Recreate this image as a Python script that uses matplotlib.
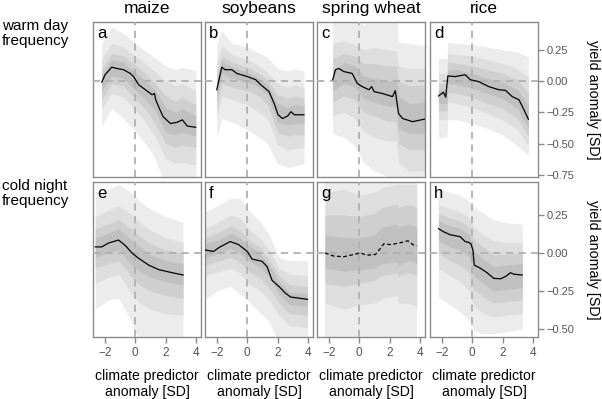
import numpy as np
import matplotlib
matplotlib.use("Agg")
import matplotlib.pyplot as plt

plt.rcParams['font.family'] = ['Liberation Sans', 'DejaVu Sans']

crops = ["maize", "soybeans", "spring wheat", "rice"]
predictors = ["warm day\nfrequency", "cold night\nfrequency"]
letters = ["a", "b", "c", "d", "e", "f", "g", "h"]

# ---- median curves (x, yield anomaly) ----
a_x = [-2.22, -2.0, -1.56, -1.22, -0.78, -0.33, -0.11, 0.22, 0.67, 1.11, 1.27, 1.35, 1.56, 1.84, 2.33, 2.78, 3.11, 3.44, 4.0]
a_med = [-0.01, 0.05, 0.11, 0.10, 0.09, 0.06, 0.035, -0.03, -0.07, -0.11, -0.10, -0.15, -0.21, -0.285, -0.34, -0.33, -0.31, -0.36, -0.37]
b_x = [-2.02, -1.69, -1.47, -1.02, -0.69, 0.0, 0.56, 0.89, 1.44, 1.78, 2.04, 2.33, 2.67, 2.89, 3.11, 3.75]
b_med = [-0.07, 0.11, 0.09, 0.09, 0.06, 0.035, 0.01, -0.03, -0.085, -0.18, -0.27, -0.30, -0.28, -0.245, -0.27, -0.27]
c_x = [-1.76, -1.58, -1.36, -1.02, -0.47, -0.13, 0.2, 0.64, 0.82, 0.98, 1.53, 2.2, 2.38, 2.6, 2.87, 3.53, 4.31]
c_med = [0.01, 0.09, 0.10, 0.075, 0.06, -0.02, -0.045, -0.07, -0.045, -0.085, -0.10, -0.125, -0.077, -0.26, -0.30, -0.325, -0.305]
d_x = [-2.24, -1.91, -1.76, -1.62, -1.13, -0.47, -0.13, 0.42, 1.09, 1.76, 2.2, 2.64, 3.09, 3.42, 3.71]
d_med = [-0.12, -0.09, -0.13, 0.04, 0.035, 0.05, 0.01, -0.005, -0.045, -0.07, -0.075, -0.125, -0.15, -0.23, -0.305]
e_x = [-2.65, -2.22, -1.78, -1.11, -0.67, -0.22, 0.22, 0.89, 1.56, 2.22, 3.16]
e_med = [0.04, 0.04, 0.065, 0.085, 0.05, 0.0, -0.035, -0.08, -0.11, -0.125, -0.145]
f_x = [-2.8, -2.24, -1.8, -1.13, -0.58, 0.0, 0.31, 0.98, 1.31, 1.64, 2.09, 2.53, 2.87, 3.98]
f_med = [0.02, 0.01, 0.04, 0.075, 0.055, 0.01, -0.04, -0.055, -0.09, -0.18, -0.22, -0.265, -0.29, -0.305]
g_x = [-2.27, -1.71, -1.04, -0.38, 0.07, 0.51, 1.07, 1.4, 1.62, 2.07, 2.62, 3.22, 3.62, 3.8]
g_med = [0.0, -0.02, -0.025, -0.01, 0.0, -0.015, -0.01, 0.03, 0.06, 0.055, 0.065, 0.08, 0.05, 0.048]
h_x = [-2.24, -1.91, -1.47, -0.8, -0.47, -0.24, -0.09, 0.04, 0.13, 0.53, 0.98, 1.42, 1.87, 2.2, 2.53, 2.76, 3.31]
h_med = [0.16, 0.14, 0.12, 0.107, 0.075, 0.07, 0.06, 0.02, -0.08, -0.10, -0.13, -0.167, -0.17, -0.155, -0.13, -0.14, -0.145]

# ---- uncertainty bands: upper / lower bounds, outermost first ----
a_bx = [-2.22, -1.56, -0.78, 0.0, 0.67, 1.33, 2.0, 2.67, 3.11, 4.0]
a_hi = [[0.30, 0.43, 0.38, 0.30, 0.24, 0.18, 0.12, 0.09, 0.11, 0.08],
        [0.18, 0.30, 0.27, 0.20, 0.14, 0.07, 0.0, -0.04, -0.02, -0.08],
        [0.10, 0.22, 0.20, 0.13, 0.06, -0.02, -0.12, -0.16, -0.13, -0.19],
        [0.05, 0.17, 0.15, 0.07, 0.0, -0.08, -0.21, -0.25, -0.22, -0.28]]
a_lo = [[-0.36, -0.22, -0.30, -0.40, -0.50, -0.62, -0.85, -0.9, -0.9, -0.9],
        [-0.22, -0.10, -0.13, -0.23, -0.33, -0.45, -0.62, -0.66, -0.65, -0.67],
        [-0.15, -0.02, -0.04, -0.14, -0.23, -0.34, -0.50, -0.53, -0.51, -0.53],
        [-0.08, 0.04, 0.02, -0.07, -0.15, -0.24, -0.41, -0.43, -0.41, -0.44]]
b_bx = [-2.02, -1.69, -1.0, 0.0, 0.67, 1.33, 2.0, 2.67, 3.11, 3.75]
b_hi = [[0.30, 0.40, 0.30, 0.27, 0.23, 0.19, 0.10, 0.08, 0.10, 0.08],
        [0.15, 0.28, 0.21, 0.17, 0.13, 0.07, -0.02, -0.05, -0.03, -0.05],
        [0.06, 0.20, 0.15, 0.11, 0.07, 0.01, -0.11, -0.14, -0.12, -0.14],
        [0.0, 0.16, 0.11, 0.07, 0.03, -0.03, -0.18, -0.21, -0.19, -0.20]]
b_lo = [[-0.45, -0.30, -0.33, -0.39, -0.44, -0.50, -0.66, -0.69, -0.68, -0.66],
        [-0.31, -0.12, -0.15, -0.19, -0.24, -0.30, -0.51, -0.55, -0.54, -0.53],
        [-0.22, -0.02, -0.05, -0.08, -0.11, -0.19, -0.41, -0.44, -0.43, -0.43],
        [-0.14, 0.06, 0.02, -0.01, -0.04, -0.11, -0.33, -0.35, -0.34, -0.34]]
c_bx = [-1.76, -1.0, -0.3, 0.3, 1.0, 1.8, 2.45, 2.6, 3.3, 4.31]
c_hi = [[0.60, 0.60, 0.60, 0.44, 0.60, 0.60, 0.60, 0.31, 0.30, 0.28],
        [0.30, 0.32, 0.29, 0.25, 0.27, 0.25, 0.24, 0.12, 0.10, 0.10],
        [0.18, 0.22, 0.20, 0.14, 0.14, 0.12, 0.12, 0.0, -0.04, -0.03],
        [0.08, 0.15, 0.12, 0.04, 0.02, 0.0, 0.0, -0.12, -0.18, -0.17]]
c_lo = [[-0.42, -0.45, -0.52, -0.65, -0.72, -0.76, -0.78, -0.9, -0.9, -0.9],
        [-0.28, -0.25, -0.30, -0.40, -0.45, -0.48, -0.48, -0.65, -0.72, -0.72],
        [-0.17, -0.12, -0.15, -0.25, -0.28, -0.32, -0.32, -0.50, -0.55, -0.55],
        [-0.08, -0.02, -0.05, -0.14, -0.17, -0.20, -0.20, -0.38, -0.42, -0.42]]
d_bx = [-2.24, -1.68, -1.62, -1.0, 0.0, 1.0, 2.0, 3.0, 3.71]
d_hi = [[0.18, 0.18, 0.31, 0.30, 0.29, 0.27, 0.25, 0.23, 0.19],
        [0.06, 0.06, 0.22, 0.21, 0.20, 0.17, 0.14, 0.10, 0.03],
        [-0.02, -0.02, 0.15, 0.14, 0.12, 0.09, 0.06, 0.01, -0.10],
        [-0.07, -0.07, 0.09, 0.09, 0.06, 0.02, -0.01, -0.07, -0.20]]
d_lo = [[-0.45, -0.45, -0.31, -0.31, -0.34, -0.38, -0.43, -0.52, -0.59],
        [-0.31, -0.31, -0.17, -0.18, -0.21, -0.26, -0.31, -0.39, -0.52],
        [-0.24, -0.24, -0.09, -0.10, -0.13, -0.18, -0.22, -0.30, -0.45],
        [-0.18, -0.18, -0.02, -0.03, -0.06, -0.10, -0.14, -0.22, -0.38]]
e_bx = [-2.65, -1.8, -1.1, -0.3, 0.3, 1.0, 2.0, 3.16]
e_hi = [[0.38, 0.42, 0.45, 0.40, 0.34, 0.29, 0.24, 0.20],
        [0.24, 0.28, 0.31, 0.26, 0.20, 0.15, 0.10, 0.07],
        [0.16, 0.19, 0.22, 0.16, 0.11, 0.06, 0.02, 0.0],
        [0.10, 0.13, 0.16, 0.09, 0.04, -0.01, -0.05, -0.07]]
e_lo = [[-0.37, -0.31, -0.30, -0.44, -0.60, -0.60, -0.60, -0.60],
        [-0.20, -0.16, -0.14, -0.26, -0.33, -0.37, -0.40, -0.41],
        [-0.10, -0.07, -0.05, -0.15, -0.21, -0.25, -0.28, -0.30],
        [-0.03, 0.0, 0.02, -0.07, -0.12, -0.16, -0.19, -0.21]]
f_bx = [-2.8, -1.8, -1.1, -0.5, 0.1, 0.9, 1.45, 2.1, 2.8, 3.98]
f_hi = [[0.27, 0.32, 0.36, 0.36, 0.28, 0.20, 0.12, -0.03, -0.05, -0.05],
        [0.16, 0.21, 0.25, 0.23, 0.16, 0.09, 0.02, -0.10, -0.14, -0.15],
        [0.10, 0.14, 0.18, 0.15, 0.09, 0.03, -0.04, -0.15, -0.21, -0.22],
        [0.06, 0.09, 0.13, 0.10, 0.05, -0.01, -0.08, -0.19, -0.26, -0.27]]
f_lo = [[-0.30, -0.24, -0.22, -0.27, -0.32, -0.40, -0.45, -0.60, -0.60, -0.60],
        [-0.15, -0.12, -0.10, -0.13, -0.20, -0.25, -0.31, -0.41, -0.48, -0.49],
        [-0.08, -0.05, -0.03, -0.06, -0.12, -0.17, -0.23, -0.33, -0.40, -0.41],
        [-0.03, 0.0, 0.03, 0.0, -0.05, -0.10, -0.16, -0.27, -0.34, -0.35]]
g_bx = [-2.27, -1.0, 0.0, 1.0, 1.5, 2.5, 2.55, 3.3, 3.8]
g_hi = [[0.60, 0.60, 0.60, 0.60, 0.60, 0.60, 0.60, 0.60, 0.60],
        [0.40, 0.42, 0.38, 0.40, 0.43, 0.45, 0.45, 0.45, 0.45],
        [0.25, 0.25, 0.24, 0.26, 0.30, 0.32, 0.30, 0.32, 0.30],
        [0.12, 0.10, 0.10, 0.12, 0.17, 0.19, 0.17, 0.19, 0.17]]
g_lo = [[-0.70, -0.70, -0.70, -0.70, -0.70, -0.70, -0.70, -0.70, -0.70],
        [-0.33, -0.37, -0.34, -0.33, -0.30, -0.28, -0.33, -0.33, -0.35],
        [-0.20, -0.22, -0.20, -0.18, -0.15, -0.13, -0.15, -0.13, -0.15],
        [-0.10, -0.12, -0.11, -0.10, -0.07, -0.06, -0.08, -0.05, -0.07]]
h_bx = [-2.24, -1.5, -0.8, -0.2, 0.1, 0.6, 1.4, 2.2, 3.31]
h_hi = [[0.42, 0.40, 0.38, 0.34, 0.30, 0.27, 0.22, 0.20, 0.19],
        [0.32, 0.29, 0.27, 0.23, 0.17, 0.13, 0.08, 0.07, 0.07],
        [0.26, 0.23, 0.21, 0.17, 0.09, 0.05, -0.01, -0.01, 0.0],
        [0.21, 0.18, 0.16, 0.12, 0.01, -0.03, -0.09, -0.08, -0.07]]
h_lo = [[-0.29, -0.34, -0.39, -0.44, -0.51, -0.53, -0.53, -0.52, -0.50],
        [-0.10, -0.15, -0.19, -0.25, -0.35, -0.39, -0.42, -0.41, -0.40],
        [0.0, -0.05, -0.08, -0.13, -0.24, -0.28, -0.33, -0.32, -0.31],
        [0.08, 0.04, 0.02, -0.03, -0.15, -0.19, -0.25, -0.24, -0.23]]

med_x = [a_x, b_x, c_x, d_x, e_x, f_x, g_x, h_x]
med_y = [a_med, b_med, c_med, d_med, e_med, f_med, g_med, h_med]
band_x = [a_bx, b_bx, c_bx, d_bx, e_bx, f_bx, g_bx, h_bx]
band_hi = [a_hi, b_hi, c_hi, d_hi, e_hi, f_hi, g_hi, h_hi]
band_lo = [a_lo, b_lo, c_lo, d_lo, e_lo, f_lo, g_lo, h_lo]
dashed_med = [False]*6 + [True, False]

row_ylim = [(-0.767, 0.471), (-0.553, 0.467)]
row_yticks = [[0.25, 0.0, -0.25, -0.5, -0.75], [0.25, 0.0, -0.25, -0.5]]
xticks = [-2, 0, 2, 4]

shades = ['#ececec', '#dedede', '#cfcfcf', '#c0c0c0']
edge = '#8a8a8a'

W, H = 602, 399
fig = plt.figure(figsize=(W/100, H/100), dpi=100)
lefts = [93, 205, 317, 430]; pw = 108
row_top = [22, 182]; ph = 155

for r in range(2):
    for c in range(4):
        i = r*4 + c
        ax = fig.add_axes([lefts[c]/W, 1-(row_top[r]+ph)/H, pw/W, ph/H])
        bx = band_x[i]
        for k in range(4):
            ax.fill_between(bx, band_lo[i][k], band_hi[i][k], color=shades[k], lw=0)
        ax.axhline(0, color='#b0b0b0', lw=1.3, dashes=(4, 3), zorder=3)
        ax.axvline(0, color='#b0b0b0', lw=1.3, dashes=(4, 3), zorder=3)
        if dashed_med[i]:
            ax.plot(med_x[i], med_y[i], color='black', lw=0.9, dashes=(3, 2), zorder=4)
        else:
            ax.plot(med_x[i], med_y[i], color='black', lw=0.9, zorder=4)
        ax.set_xlim(-2.8, 4.35)
        ax.set_ylim(*row_ylim[r])
        for s in ax.spines.values():
            s.set_color(edge); s.set_linewidth(1.0)
        ax.text(0.035, 0.975, letters[i], transform=ax.transAxes, ha='left', va='top', fontsize=12)
        ax.set_xticks(xticks)
        ax.set_xticklabels(['\u22122', '0', '2', '4'])
        ax.tick_params(axis='x', bottom=(r == 1), labelbottom=(r == 1), length=4, width=1,
                       color=edge, labelcolor='#555555', labelsize=8.5, pad=3)
        if c == 3:
            ax.yaxis.tick_right()
            ax.set_yticks(row_yticks[r])
            ax.set_yticklabels([f"{v:.2f}".replace('-', '\u2212') for v in row_yticks[r]])
            ax.tick_params(axis='y', right=True, labelright=True, left=False, labelleft=False,
                           length=4, width=1, color=edge, labelcolor='#555555', labelsize=8, pad=2)
        else:
            ax.set_yticks([])
        if r == 1:
            fig.text((lefts[c]+pw/2)/W, 1-384/H, 'climate predictor\nanomaly [SD]',
                     ha='center', va='center', fontsize=10.1, linespacing=1.2)
    fig.text(593/W, 1-(row_top[r]+ph/2)/H, 'yield anomaly [SD]', rotation=270,
             ha='center', va='center', fontsize=10.3)
    fig.text(2/W, 1-(row_top[r]-3)/H, predictors[r], ha='left', va='top', fontsize=11, linespacing=1.05)

for c in range(4):
    fig.text((lefts[c]+pw/2)/W, 1-13/H, crops[c], ha='center', va='baseline', fontsize=12.5)

fig.savefig("out.png", dpi=100)
